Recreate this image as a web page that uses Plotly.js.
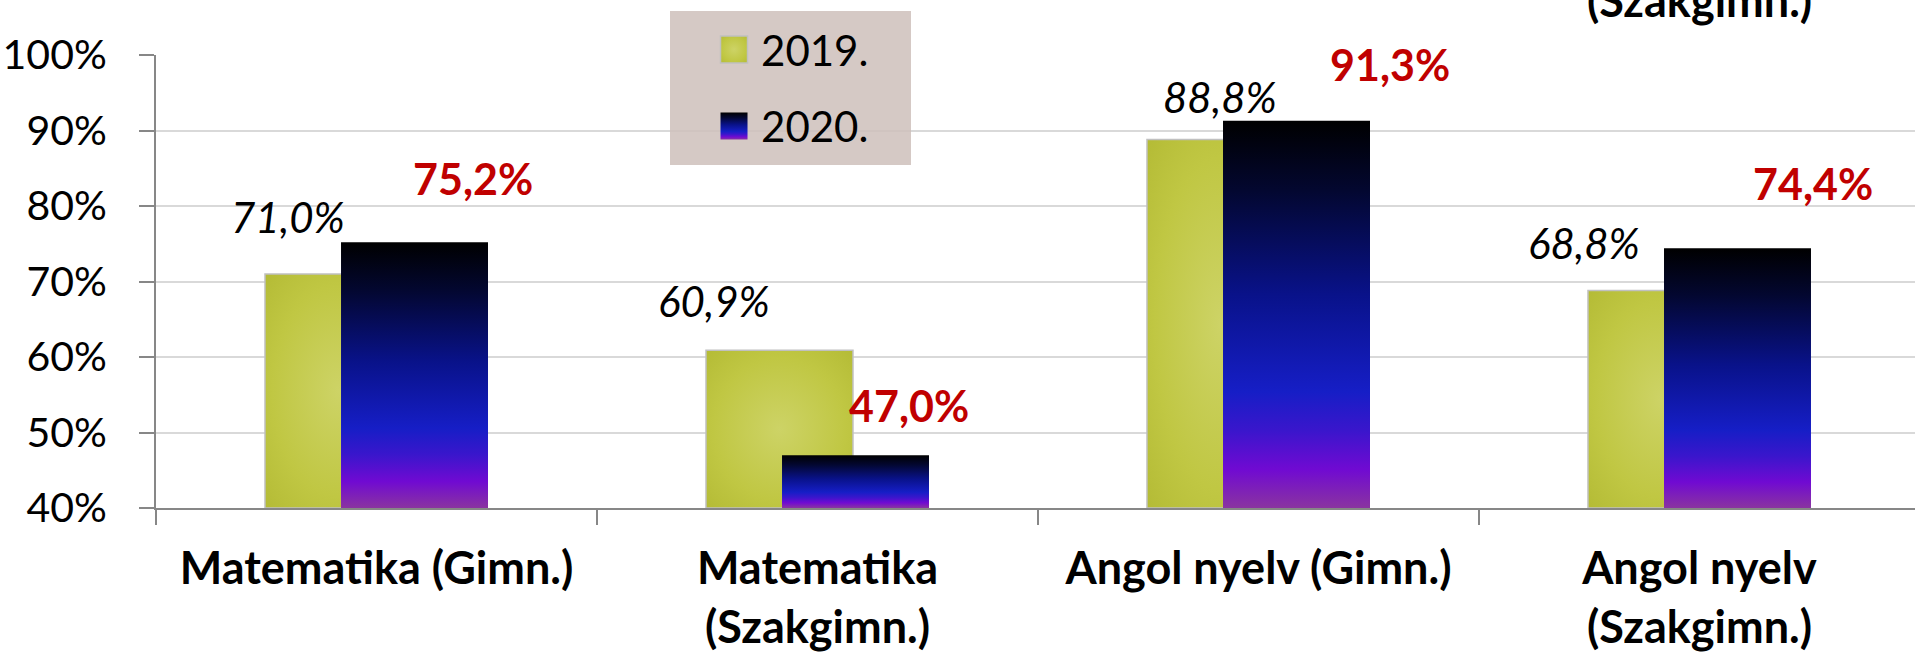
<!DOCTYPE html>
<html>
<head>
<meta charset="utf-8">
<script src="https://cdn.plot.ly/plotly-3.0.1.min.js"></script>
<style>
  html, body { margin: 0; padding: 0; background: #ffffff; }
  #chart { width: 1915px; height: 652px; }
</style>
</head>
<body>
<div id="chart"></div>
<script>
// ---------------- data ----------------
const categories = ["Matematika (Gimn.)", "Matematika<br>(Szakgimn.)", "Angol nyelv (Gimn.)", "Angol nyelv<br>(Szakgimn.)"];
const seriesNames = ["2019.", "2020."];
const values2019 = [71.0, 60.9, 88.8, 68.8];
const values2020 = [75.2, 47.0, 91.3, 74.4];
const labels2019 = ["71,0%", "60,9%", "88,8%", "68,8%"];
const labels2020 = ["75,2%", "47,0%", "91,3%", "74,4%"];
const yTickValues = [40, 50, 60, 70, 80, 90, 100];
const yTickLabels = ["40%", "50%", "60%", "70%", "80%", "90%", "100%"];
const topCutLabel = "(Szakgimn.)";

// ---------------- layout helpers ----------------
const FONT = 'Lato, "Liberation Sans", Arial, sans-serif';
const AXIS_MIN = 40, AXIS_MAX = 100;
const BAR_W = 0.3333;
const CENTER_SHIFT = 0.0862;            // bar centre offset from category centre
// manual label placement (pixels) as in the original chart
const shift2019 = { dx: [-50, -65, 0, -77], dy: [30, 22, 16, 21] };
const shift2020 = { dx: [58, 53, 93, 75], dy: [36, 22, 29, 37] };

const idx = categories.map((_, i) => i);

const trace2019 = {
  type: 'bar', name: seriesNames[0], x: categories,
  y: values2019.map(v => v - AXIS_MIN), base: AXIS_MIN,
  width: BAR_W, offset: -CENTER_SHIFT - BAR_W / 2,
  marker: { color: '#c2c94a', line: { color: '#c0c0c0', width: 1.5 } },
  legendgroup: 'a', hoverinfo: 'skip'
};
const trace2020 = {
  type: 'bar', name: seriesNames[1], x: categories,
  y: values2020.map(v => v - AXIS_MIN), base: AXIS_MIN,
  width: BAR_W, offset: CENTER_SHIFT - BAR_W / 2,
  marker: { color: '#0a148f', line: { width: 0 } },
  legendgroup: 'b', hoverinfo: 'skip'
};

const annotations = [];
idx.forEach(i => {
  annotations.push({
    x: i - CENTER_SHIFT, y: values2019[i], xref: 'x', yref: 'y',
    text: labels2019[i], showarrow: false, xanchor: 'center', yanchor: 'bottom',
    xshift: shift2019.dx[i], yshift: shift2019.dy[i],
    font: { family: FONT, size: 42, color: '#000000', style: 'italic' }
  });
  annotations.push({
    x: i + CENTER_SHIFT, y: values2020[i], xref: 'x', yref: 'y',
    text: labels2020[i], showarrow: false, xanchor: 'center', yanchor: 'bottom',
    xshift: shift2020.dx[i], yshift: shift2020.dy[i],
    font: { family: FONT, size: 43, color: '#c00000', weight: 'bold' }
  });
});
// clipped label of a chart above, visible at the top edge
annotations.push({
  x: 3, y: 1.0574, xref: 'x', yref: 'paper', text: topCutLabel, showarrow: false,
  xanchor: 'center', yanchor: 'bottom',
  font: { family: FONT, size: 45, color: '#000000', weight: 'bold' }
});

const layout = {
  width: 1915, height: 652,
  margin: { l: 156, r: 0, t: 55, b: 144, pad: 0, autoexpand: false },
  paper_bgcolor: '#ffffff', plot_bgcolor: '#ffffff',
  barmode: 'overlay',
  showlegend: true,
  legend: {
    xref: 'container', yref: 'container', x: 0.3692, y: 0.976,
    xanchor: 'left', yanchor: 'top',
    bgcolor: 'rgba(0,0,0,0)', borderwidth: 0,
    itemwidth: 44, traceorder: 'grouped', tracegroupgap: 19,
    font: { family: FONT, size: 42, color: '#000000' }
  },
  xaxis: {
    type: 'category', range: [-0.5, 3.4887], fixedrange: true, automargin: false,
    tickangle: 0,
    tickson: 'boundaries', ticks: 'outside', ticklen: 15, tickwidth: 2, tickcolor: '#878787',
    showline: true, linecolor: '#878787', linewidth: 2, showgrid: false, zeroline: false,
    ticklabelstandoff: 20,
    tickfont: { family: FONT, size: 45, color: '#000000', weight: 'bold' }
  },
  yaxis: {
    range: [AXIS_MIN, AXIS_MAX], fixedrange: true, automargin: false,
    tickvals: yTickValues, ticktext: yTickLabels,
    ticks: 'outside', ticklen: 15, tickwidth: 2, tickcolor: '#878787',
    showline: true, linecolor: '#878787', linewidth: 2,
    showgrid: true, gridcolor: '#d9d9d9', gridwidth: 2, zeroline: false,
    ticklabelstandoff: 24,
    tickfont: { family: FONT, size: 41, color: '#000000' }
  },
  shapes: [{
    type: 'rect', xref: 'paper', yref: 'paper', layer: 'above',
    x0: 0.29221, x1: 0.42922, y0: 0.75717, y1: 1.09713,
    fillcolor: 'rgba(206,191,187,0.85)', line: { width: 0 }
  }],
  annotations: annotations
};

const gd = document.getElementById('chart');

function ensureGradients(svg, suffix) {
  const ns = 'http://www.w3.org/2000/svg';
  let defs = svg.querySelector('defs');
  if (!defs) { defs = document.createElementNS(ns, 'defs'); svg.insertBefore(defs, svg.firstChild); }
  const lin = document.createElementNS(ns, 'linearGradient');
  lin.setAttribute('id', 'g2020' + suffix);
  lin.setAttribute('x1', '0'); lin.setAttribute('y1', '0');
  lin.setAttribute('x2', '0'); lin.setAttribute('y2', '1');
  [[0, '#000000'], [0.18, '#030730'], [0.45, '#09128a'], [0.7, '#161ec6'],
   [0.8, '#3a16cc'], [0.9, '#700ad2'], [1, '#8a34a0']].forEach(([o, c]) => {
    const s = document.createElementNS(ns, 'stop');
    s.setAttribute('offset', o); s.setAttribute('stop-color', c); lin.appendChild(s);
  });
  defs.appendChild(lin);
  const rad = document.createElementNS(ns, 'radialGradient');
  rad.setAttribute('id', 'g2019' + suffix);
  rad.setAttribute('cx', '0.5'); rad.setAttribute('cy', '0.5'); rad.setAttribute('r', '0.75');
  [[0, '#cdd366'], [0.6, '#c0c743'], [1, '#b2b933']].forEach(([o, c]) => {
    const s = document.createElementNS(ns, 'stop');
    s.setAttribute('offset', o); s.setAttribute('stop-color', c); rad.appendChild(s);
  });
  defs.appendChild(rad);
}

Plotly.newPlot(gd, [trace2019, trace2020], layout, { staticPlot: true, displayModeBar: false }).then(() => {
  const svgs = gd.querySelectorAll('svg.main-svg');
  svgs.forEach((svg, k) => ensureGradients(svg, '_' + k));
  const svgIndex = el => Array.prototype.indexOf.call(svgs, el.ownerSVGElement);
  const traces = gd.querySelectorAll('.barlayer .trace');
  traces.forEach((t, ti) => {
    t.querySelectorAll('path').forEach(p => {
      const id = (ti === 0 ? 'g2019_' : 'g2020_') + svgIndex(p);
      p.style.fill = 'url(#' + id + ')';
    });
  });
  const legendTraces = gd.querySelectorAll('.legend .traces');
  legendTraces.forEach((t, ti) => {
    t.querySelectorAll('.legendpoints path').forEach(p => {
      p.setAttribute('d', 'M13.5,13.5H-13.5V-13.5H13.5Z');
      const id = (ti === 0 ? 'g2019_' : 'g2020_') + svgIndex(p);
      p.style.fill = 'url(#' + id + ')';
    });
  });
});
</script>
</body>
</html>
